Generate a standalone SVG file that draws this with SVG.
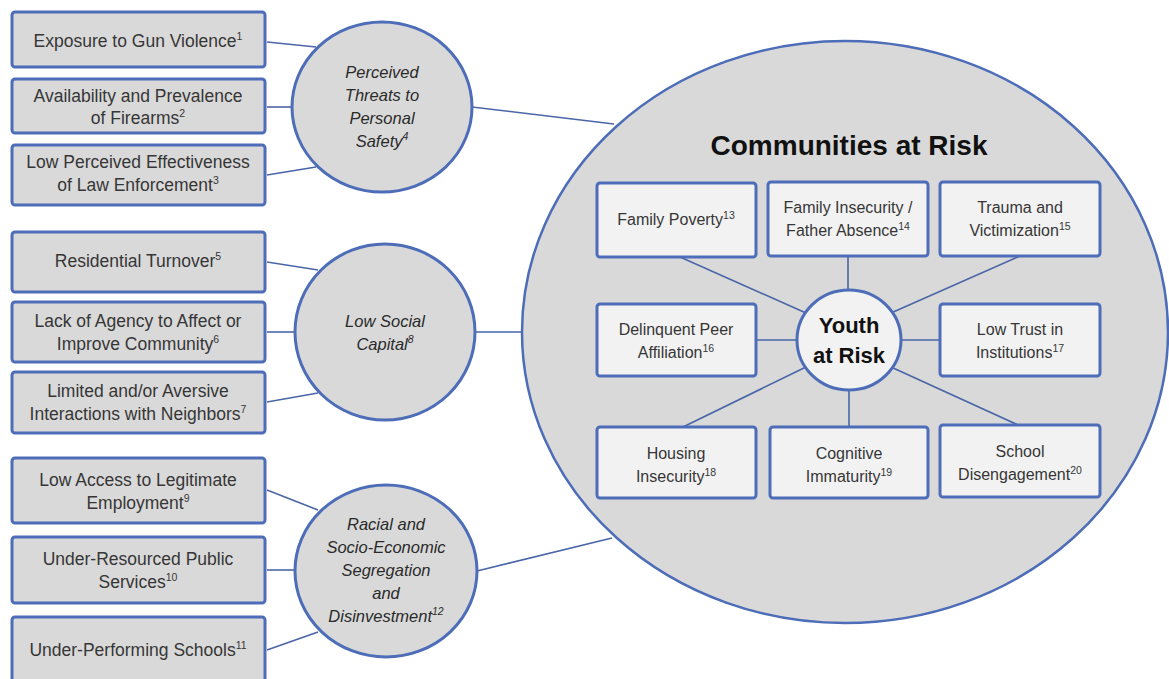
<svg xmlns="http://www.w3.org/2000/svg" width="1169" height="679" viewBox="0 0 1169 679">
<style>
.box{fill:#d9d9d9;stroke:#4d6db8;stroke-width:3}
.ibox{fill:#f2f2f2;stroke:#4d6db8;stroke-width:3}
.circ{fill:#d9d9d9;stroke:#4d6db8;stroke-width:3}
.big{fill:#d9d9d9;stroke:#4d6db8;stroke-width:2.5}
.yc{fill:#f2f2f2;stroke:#4d6db8;stroke-width:3}
.ln{stroke:#4a66a8;stroke-width:1.6;fill:none}
text{font-family:"Liberation Sans",Arial,sans-serif;fill:#363636;text-anchor:middle}
.t{font-size:17.5px}
.it{font-size:16.5px;font-style:italic;fill:#2a2a2a}
.st{font-size:16px}
.sup{font-size:10.5px}
.title{font-size:28px;font-weight:bold;fill:#111}
.youth{font-size:22px;font-weight:bold;fill:#111}
</style>
<rect width="1169" height="679" fill="#ffffff"/>
<g id="connectors">
<line class="ln" x1="267" y1="42" x2="316" y2="47"/>
<line class="ln" x1="267" y1="107" x2="292" y2="107"/>
<line class="ln" x1="267" y1="175" x2="316" y2="167"/>
<line class="ln" x1="267" y1="262" x2="318" y2="270"/>
<line class="ln" x1="267" y1="332" x2="295" y2="332"/>
<line class="ln" x1="267" y1="402" x2="318" y2="393"/>
<line class="ln" x1="267" y1="490" x2="318" y2="510"/>
<line class="ln" x1="267" y1="570" x2="295" y2="570"/>
<line class="ln" x1="267" y1="650" x2="318" y2="632"/>
<line class="ln" x1="472" y1="107" x2="614" y2="124"/>
<line class="ln" x1="475" y1="332" x2="524" y2="332"/>
<line class="ln" x1="477" y1="571" x2="612" y2="538"/>
</g>
<g id="communities">
<ellipse class="big" cx="845" cy="332" rx="323" ry="291"/>
<text class="title" x="849" y="155">Communities at Risk</text>
</g>
<g id="spokes">
<line class="ln" x1="680" y1="257" x2="806" y2="313"/>
<line class="ln" x1="848" y1="256" x2="848" y2="291"/>
<line class="ln" x1="1020" y1="256" x2="891" y2="313"/>
<line class="ln" x1="756" y1="340" x2="796" y2="340"/>
<line class="ln" x1="901" y1="340" x2="940" y2="340"/>
<line class="ln" x1="683" y1="427" x2="806" y2="367"/>
<line class="ln" x1="849" y1="390" x2="849" y2="427"/>
<line class="ln" x1="1018" y1="425" x2="891" y2="367"/>
</g>
<g id="box1"><rect class="box" x="12" y="12" width="253" height="55" rx="3"/><text class="t" x="138" y="47">Exposure to Gun Violence<tspan class="sup" dy="-7">1</tspan></text></g>
<g id="box2"><rect class="box" x="12" y="79" width="253" height="54" rx="3"/><text class="t" x="138" y="102">Availability and Prevalence</text><text class="t" x="138" y="124">of Firearms<tspan class="sup" dy="-7">2</tspan></text></g>
<g id="box3"><rect class="box" x="12" y="145" width="253" height="60" rx="3"/><text class="t" x="138" y="168">Low Perceived Effectiveness</text><text class="t" x="138" y="191">of Law Enforcement<tspan class="sup" dy="-7">3</tspan></text></g>
<g id="box4"><rect class="box" x="12" y="232" width="253" height="60" rx="3"/><text class="t" x="138" y="267">Residential Turnover<tspan class="sup" dy="-7">5</tspan></text></g>
<g id="box5"><rect class="box" x="12" y="302" width="253" height="60" rx="3"/><text class="t" x="138" y="327">Lack of Agency to Affect or</text><text class="t" x="138" y="350">Improve Community<tspan class="sup" dy="-7">6</tspan></text></g>
<g id="box6"><rect class="box" x="12" y="372" width="253" height="61" rx="3"/><text class="t" x="138" y="397">Limited and/or Aversive</text><text class="t" x="138" y="420">Interactions with Neighbors<tspan class="sup" dy="-7">7</tspan></text></g>
<g id="box7"><rect class="box" x="12" y="458" width="253" height="65" rx="3"/><text class="t" x="138" y="486">Low Access to Legitimate</text><text class="t" x="138" y="509">Employment<tspan class="sup" dy="-7">9</tspan></text></g>
<g id="box8"><rect class="box" x="12" y="537" width="253" height="66" rx="3"/><text class="t" x="138" y="565">Under-Resourced  Public</text><text class="t" x="138" y="588">Services<tspan class="sup" dy="-7">10</tspan></text></g>
<g id="box9"><rect class="box" x="12" y="617" width="253" height="70" rx="3"/><text class="t" x="138" y="656">Under-Performing  Schools<tspan class="sup" dy="-7">11</tspan></text></g>
<g id="circle1"><ellipse class="circ" cx="382" cy="107" rx="90" ry="85"/><text class="it" x="382" y="78">Perceived</text><text class="it" x="382" y="101">Threats to</text><text class="it" x="382" y="124">Personal</text><text class="it" x="382" y="147">Safety<tspan class="sup" dy="-7">4</tspan></text></g>
<g id="circle2"><ellipse class="circ" cx="385" cy="332" rx="90" ry="88"/><text class="it" x="385" y="327">Low Social</text><text class="it" x="385" y="350">Capital<tspan class="sup" dy="-7">8</tspan></text></g>
<g id="circle3"><ellipse class="circ" cx="386" cy="571" rx="91" ry="86"/><text class="it" x="386" y="530">Racial and</text><text class="it" x="386" y="553">Socio-Economic</text><text class="it" x="386" y="576">Segregation</text><text class="it" x="386" y="599">and</text><text class="it" x="386" y="622">Disinvestment<tspan class="sup" dy="-7">12</tspan></text></g>
<g id="youth"><ellipse class="yc" cx="849" cy="340" rx="52" ry="50"/><text class="youth" x="849" y="333">Youth</text><text class="youth" x="849" y="363">at Risk</text></g>
<g id="ib1"><rect class="ibox" x="597" y="183" width="159" height="74" rx="3"/><text class="st" x="676" y="225">Family Poverty<tspan class="sup" dy="-6">13</tspan></text></g>
<g id="ib2"><rect class="ibox" x="768" y="182" width="160" height="74" rx="3"/><text class="st" x="848" y="213">Family Insecurity /</text><text class="st" x="848" y="236">Father Absence<tspan class="sup" dy="-6">14</tspan></text></g>
<g id="ib3"><rect class="ibox" x="940" y="182" width="160" height="74" rx="3"/><text class="st" x="1020" y="213">Trauma and</text><text class="st" x="1020" y="236">Victimization<tspan class="sup" dy="-6">15</tspan></text></g>
<g id="ib4"><rect class="ibox" x="597" y="304" width="159" height="72" rx="3"/><text class="st" x="676" y="335">Delinquent  Peer</text><text class="st" x="676" y="358">Affiliation<tspan class="sup" dy="-6">16</tspan></text></g>
<g id="ib5"><rect class="ibox" x="940" y="304" width="160" height="72" rx="3"/><text class="st" x="1020" y="335">Low Trust in</text><text class="st" x="1020" y="358">Institutions<tspan class="sup" dy="-6">17</tspan></text></g>
<g id="ib6"><rect class="ibox" x="597" y="427" width="159" height="71" rx="3"/><text class="st" x="676" y="459">Housing</text><text class="st" x="676" y="482">Insecurity<tspan class="sup" dy="-6">18</tspan></text></g>
<g id="ib7"><rect class="ibox" x="770" y="427" width="158" height="71" rx="3"/><text class="st" x="849" y="459">Cognitive</text><text class="st" x="849" y="482">Immaturity<tspan class="sup" dy="-6">19</tspan></text></g>
<g id="ib8"><rect class="ibox" x="940" y="425" width="160" height="72" rx="3"/><text class="st" x="1020" y="457">School</text><text class="st" x="1020" y="480">Disengagement<tspan class="sup" dy="-6">20</tspan></text></g>
</svg>
